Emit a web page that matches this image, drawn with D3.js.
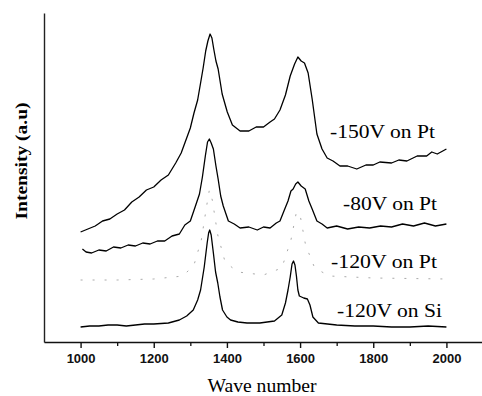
<!DOCTYPE html>
<html><head><meta charset="utf-8">
<script src="https://cdn.jsdelivr.net/npm/d3@7"></script>
<style>body{margin:0;background:#fff}svg{display:block}</style>
</head><body>
<svg id="c" width="482" height="396"></svg>
<script>
const seriesNames = ["-150V on Pt", "-80V on Pt", "-120V on Pt", "-120V on Si"];
const xTicks = [1000, 1200, 1400, 1600, 1800, 2000];
const xMinorTicks = [1100, 1300, 1500, 1700, 1900];
const xTitle = "Wave number";
const yTitle = "Intensity (a.u)";

const pt150 = [[1000,110],[1020,113],[1040,116],[1060,121],[1080,123],[1100,128],[1120,132],[1140,140],[1160,145],[1180,152],[1200,155],[1220,162],[1240,167],[1260,179],[1275,189],[1290,204],[1300,214],[1310,229],[1320,242],[1328,259],[1335,274],[1342,291],[1348,301],[1354,308],[1359,304],[1364,293],[1370,281],[1376,273],[1387,248],[1401,230],[1415,217],[1436,211],[1460,211],[1480,215],[1500,215],[1518,220],[1530,223],[1545,232],[1560,247],[1573,266],[1585,278],[1594,285],[1603,281],[1612,279],[1622,269],[1633,243],[1646,208],[1660,193],[1674,184],[1690,181],[1709,176],[1730,176],[1755,173],[1780,177],[1800,177],[1818,180],[1850,179],[1870,182],[1892,181],[1920,186],[1946,186],[1960,190],[1975,188],[2000,193]];
const pt80 = [[1005,93],[1015,90],[1030,89],[1050,92],[1070,91],[1090,95],[1110,94],[1130,97],[1150,96],[1170,99],[1190,98],[1210,101],[1230,101],[1250,106],[1270,108],[1285,117],[1300,121],[1314,136],[1325,148],[1333,165],[1341,186],[1347,200],[1352,203],[1357,199],[1363,193],[1370,176],[1376,163],[1383,146],[1390,136],[1404,121],[1420,118],[1436,114],[1460,115],[1483,112],[1500,115],[1518,114],[1535,119],[1545,121],[1557,132],[1567,141],[1575,151],[1581,153],[1588,158],[1594,160],[1603,156],[1614,153],[1624,141],[1633,133],[1646,121],[1660,118],[1674,114],[1700,116],[1730,113],[1760,115],[1790,114],[1820,116],[1850,115],[1880,118],[1910,116],[1940,119],[1970,116],[2000,118]];
const pt120 = [[1000,62],[1100,62],[1200,63],[1280,66],[1310,77],[1330,102],[1345,137],[1352,152],[1360,142],[1375,107],[1395,80],[1430,70],[1500,67],[1550,74],[1575,102],[1590,130],[1600,127],[1615,97],[1640,74],[1680,66],[1800,64],[2000,63]];
const si120 = [[1000,15],[1025,16],[1050,16],[1075,17],[1100,17],[1125,16],[1150,17],[1175,18],[1200,18],[1240,19],[1270,22],[1290,26],[1308,32],[1320,42],[1328,52],[1338,75],[1346,99],[1350,109],[1353,112],[1357,107],[1363,89],[1369,70],[1375,59],[1381,45],[1388,32],[1400,25],[1410,22],[1430,20],[1455,19],[1490,19],[1530,21],[1550,27],[1560,39],[1567,52],[1573,65],[1578,78],[1582,81],[1586,77],[1590,66],[1594,52],[1598,46],[1610,44],[1620,43],[1627,37],[1635,25],[1650,19],[1700,17],[1750,16],[1800,16],[1850,15],[1900,15],[1950,16],[2000,15]];

const svg = d3.select("#c");
const x = d3.scaleLinear().domain([900, 2100]).range([44, 483]);
const y = d3.scaleLinear().domain([0, 329]).range([342, 13]);

svg.append("g").attr("transform", "translate(44,0)")
  .call(d3.axisLeft(y).tickValues([]).tickSizeOuter(0))
  .select(".domain").attr("stroke", "#222").attr("stroke-width", 1.4);

const gx = svg.append("g").attr("transform", "translate(0,342)");
gx.call(d3.axisBottom(x).tickValues(xTicks).tickSize(6).tickSizeOuter(0).tickFormat(d3.format("d")).tickPadding(6));
gx.select(".domain").attr("stroke", "#111").attr("stroke-width", 1.4);
gx.selectAll(".tick line").attr("stroke", "#111").attr("stroke-width", 1.4);
gx.selectAll(".tick text").attr("font-family", "Liberation Sans, Arial, sans-serif")
  .attr("font-size", 13).attr("font-weight", "bold").attr("fill", "#111");
const gm = svg.append("g").attr("transform", "translate(0,342)");
gm.call(d3.axisBottom(x).tickValues(xMinorTicks).tickSize(4).tickSizeOuter(0).tickFormat(""));
gm.select(".domain").remove();
gm.selectAll(".tick line").attr("stroke", "#111").attr("stroke-width", 1.3);

const line = d3.line().x(d => x(d[0])).y(d => y(d[1])).curve(d3.curveLinear);
const data = [pt150, pt80, pt120, si120];
data.forEach((s, i) => {
  const p = svg.append("path").datum(s).attr("d", line).attr("fill", "none");
  if (i === 2) {
    p.attr("stroke", "#aaa").attr("stroke-width", 1).attr("stroke-dasharray", "2,10");
  } else {
    p.attr("stroke", "#000").attr("stroke-width", 1.3).attr("stroke-linejoin", "round");
  }
});

const labelPos = [[330, 138, 105], [343, 210, 94], [331, 268, 106], [337, 317, 105]];
seriesNames.forEach((n, i) => {
  svg.append("text").attr("x", labelPos[i][0]).attr("y", labelPos[i][1])
    .attr("font-family", "Liberation Serif, Times New Roman, serif").attr("font-size", 18)
    .attr("textLength", labelPos[i][2]).attr("lengthAdjust", "spacingAndGlyphs")
    .attr("fill", "#000").text(n);
});

svg.append("text").attr("x", 262).attr("y", 392).attr("text-anchor", "middle")
  .attr("font-family", "Liberation Serif, Times New Roman, serif").attr("font-size", 18)
  .attr("textLength", 109).attr("lengthAdjust", "spacingAndGlyphs").text(xTitle);
svg.append("text").attr("transform", "translate(27,161) rotate(-90)").attr("text-anchor", "middle")
  .attr("font-family", "Liberation Serif, Times New Roman, serif").attr("font-size", 17)
  .attr("font-weight", "bold").attr("textLength", 117).attr("lengthAdjust", "spacingAndGlyphs").text(yTitle);
</script>
</body></html>
